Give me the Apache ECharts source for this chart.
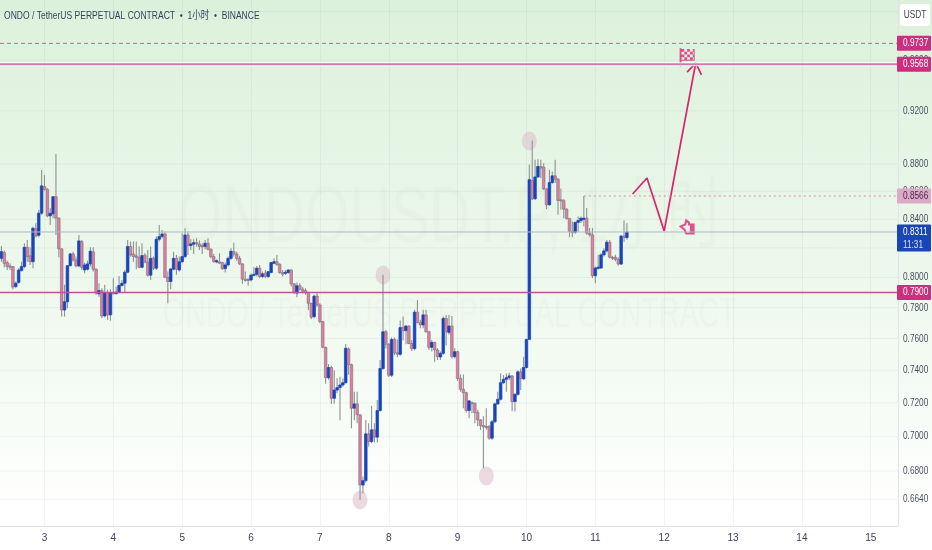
<!DOCTYPE html>
<html><head><meta charset="utf-8">
<style>html,body{margin:0;padding:0;background:#fff}#c{width:932px;height:550px}</style>
<script src="https://cdn.jsdelivr.net/npm/echarts@6/dist/echarts.min.js"></script>
</head><body><div id="c"></div>
<script>
const dayLabels=[3,4,5,6,7,8,9,10,11,12,13,14,15];
const hoursPerDay=24, firstDayIndex=15, slotCount=313;
const tickValues=[1.00,0.96,0.92,0.88,0.86,0.84,0.82,0.80,0.78,0.76,0.74,0.72,0.70,0.68,0.664];
const priceMin=0.6493, priceMax=1.0098;
// [open, close, low, high]
const candles=[
[.8129,.8175,.8106,.8214],[.8168,.8095,.8068,.8182],[.8100,.8073,.8050,.8113],[.8077,.8068,.8050,.8095],[.8073,.7935,.7921,.8077],
[.7939,.7961,.7928,.7972],[.7966,.8050,.7957,.8062],[.8046,.8073,.8039,.8106],[.8073,.8205,.8062,.8233],[.8205,.8141,.8106,.8256],
[.8146,.8106,.8084,.8205],[.8106,.8337,.8062,.8348],[.8334,.8283,.8274,.8372],[.8288,.8443,.8274,.8466],[.8443,.8639,.8430,.8755],
[.8634,.8614,.8605,.8719],[.8614,.8424,.8415,.8622],[.8424,.8443,.8360,.8478],[.8438,.8561,.8408,.8566],[.8561,.8408,.8290,.8874],
[.8408,.8194,.8136,.8415],[.8194,.7784,.7741,.8198],[.7784,.7838,.7741,.7950],[.7838,.8079,.7795,.8084],[.8079,.8159,.8073,.8168],
[.8159,.8118,.8106,.8175],[.8118,.8077,.8068,.8141],[.8077,.8249,.8068,.8290],[.8244,.8068,.8050,.8256],[.8050,.8084,.8028,.8100],
[.8055,.8091,.8046,.8113],[.8091,.8178,.8073,.8205],[.8173,.8055,.8039,.8205],[.8055,.7895,.7884,.8062],[.7890,.7912,.7871,.7961],
[.7912,.7745,.7730,.7928],[.7745,.7899,.7737,.7950],[.7899,.7752,.7719,.7917],[.7752,.7899,.7715,.7921],[.7899,.7892,.7884,.7994],
[.7892,.7901,.7884,.7939],[.7899,.7946,.7895,.8010],[.7946,.7961,.7939,.7983],[.7961,.8035,.7901,.8050],[.8035,.8210,.8028,.8256],
[.8210,.8152,.8141,.8244],[.8159,.8141,.8106,.8244],[.8146,.8136,.8055,.8244],[.8136,.8068,.8062,.8210],[.8068,.8148,.8062,.8233],
[.8150,.8104,.8095,.8164],[.8104,.8015,.8006,.8187],[.8015,.8129,.7983,.8210],[.8129,.8062,.8050,.8141],[.8062,.8260,.8050,.8279],
[.8260,.8279,.8244,.8360],[.8279,.8297,.8267,.8325],[.8297,.8001,.7994,.8313],[.8001,.7972,.7828,.8039],[.7972,.8057,.7921,.8062],
[.8055,.8129,.8050,.8175],[.8129,.8055,.8017,.8152],[.8050,.8106,.8039,.8141],[.8106,.8141,.8095,.8302],[.8141,.8290,.8129,.8337],
[.8290,.8216,.8152,.8313],[.8216,.8228,.8187,.8260],[.8226,.8237,.8159,.8260],[.8237,.8228,.8210,.8267],[.8228,.8210,.8187,.8251],
[.8216,.8210,.8159,.8233],[.8210,.8233,.8191,.8256],[.8233,.8191,.8182,.8267],[.8191,.8141,.8129,.8198],[.8141,.8106,.8100,.8159],
[.8104,.8113,.8095,.8122],[.8104,.8100,.8091,.8164],[.8100,.8059,.8050,.8106],[.8059,.8084,.8033,.8100],[.8084,.8129,.8073,.8141],
[.8129,.8178,.8118,.8198],[.8175,.8159,.8141,.8237],[.8159,.8129,.8113,.8175],[.8129,.8091,.8084,.8146],[.8091,.7988,.7957,.8095],
[.7988,.7983,.7970,.8039],[.7988,.7979,.7944,.7994],[.7983,.8015,.7972,.8028],[.8015,.8021,.8006,.8068],[.8021,.8062,.8006,.8077],
[.8062,.8006,.7994,.8084],[.8006,.8024,.7994,.8039],[.8028,.8006,.7994,.8050],[.8006,.8039,.7994,.8039],[.8033,.8100,.8028,.8106],
[.8095,.8106,.8089,.8129],[.8106,.8088,.8077,.8152],[.8088,.8033,.8024,.8095],[.8033,.8021,.8006,.8050],[.8028,.8035,.8017,.8050],
[.8033,.8050,.8024,.8055],[.8050,.7957,.7939,.8055],[.7957,.7899,.7890,.7961],[.7895,.7944,.7867,.7966],[.7944,.7921,.7912,.7961],
[.7921,.7908,.7895,.7935],[.7912,.7899,.7884,.7928],[.7899,.7828,.7784,.7905],[.7828,.7737,.7724,.7832],[.7741,.7875,.7730,.7884],
[.7876,.7817,.7806,.7894],[.7817,.7709,.7698,.7828],[.7709,.7544,.7538,.7714],[.7544,.7354,.7316,.7548],[.7354,.7417,.7341,.7438],
[.7417,.7228,.7193,.7426],[.7228,.7278,.7195,.7400],[.7278,.7293,.7258,.7350],[.7293,.7309,.7096,.7360],[.7309,.7323,.7299,.7350],
[.7323,.7538,.7316,.7565],[.7533,.7435,.7372,.7544],[.7435,.7168,.7048,.7441],[.7168,.7194,.7096,.7268],[.7194,.7128,.7078,.7268],
[.7128,.6720,.6637,.7132],[.6720,.6745,.6673,.6768],[.6745,.7015,.6733,.7098],[.7015,.6970,.6941,.7078],[.6970,.7039,.6960,.7182],
[.7039,.6996,.6964,.7078],[.6996,.7154,.6964,.7218],[.7154,.7411,.7148,.7464],[.7411,.7643,.7401,.8017],[.7643,.7564,.7536,.7654],
[.7564,.7369,.7359,.7569],[.7369,.7594,.7359,.7606],[.7594,.7509,.7494,.7606],[.7509,.7500,.7482,.7594],[.7500,.7670,.7491,.7715],
[.7670,.7650,.7587,.7742],[.7650,.7680,.7564,.7687],[.7680,.7568,.7564,.7685],[.7568,.7536,.7521,.7590],[.7536,.7770,.7525,.7785],
[.7770,.7702,.7698,.7850],[.7702,.7687,.7665,.7720],[.7687,.7752,.7665,.7785],[.7752,.7643,.7637,.7785],[.7643,.7544,.7527,.7650],
[.7544,.7575,.7517,.7590],[.7575,.7527,.7453,.7580],[.7527,.7485,.7464,.7538],[.7483,.7506,.7464,.7517],[.7506,.7729,.7495,.7742],
[.7729,.7643,.7556,.7752],[.7639,.7680,.7624,.7752],[.7680,.7485,.7474,.7745],[.7485,.7516,.7474,.7538],[.7516,.7349,.7334,.7522],
[.7349,.7283,.7268,.7374],[.7283,.7262,.7168,.7374],[.7262,.7154,.7142,.7268],[.7154,.7212,.7108,.7218],[.7202,.7198,.7138,.7208],
[.7198,.7142,.7078,.7202],[.7142,.7098,.7062,.7158],[.7098,.7064,.7038,.7102],[.7064,.7058,.6815,.7120],[.7060,.7056,.7040,.7168],
[.7058,.6990,.6980,.7068],[.6990,.7087,.6980,.7098],[.7087,.7194,.7078,.7202],[.7194,.7222,.7188,.7268],[.7222,.7323,.7214,.7380],
[.7323,.7344,.7316,.7370],[.7344,.7354,.7268,.7380],[.7354,.7365,.7340,.7385],[.7365,.7208,.7150,.7369],[.7208,.7252,.7148,.7258],
[.7252,.7390,.7244,.7401],[.7390,.7349,.7278,.7411],[.7347,.7417,.7340,.7485],[.7417,.7594,.7411,.7598],[.7594,.8684,.7590,.8796],
[.8677,.8546,.8537,.8974],[.8546,.8704,.8537,.8830],[.8704,.8781,.8696,.8834],[.8781,.8769,.8696,.8830],[.8776,.8617,.8610,.8805],
[.8617,.8503,.8472,.8622],[.8503,.8663,.8496,.8756],[.8663,.8712,.8654,.8744],[.8712,.8688,.8659,.8830],[.8688,.8534,.8432,.8695],
[.8539,.8532,.8467,.8620],[.8532,.8472,.8408,.8544],[.8472,.8406,.8396,.8479],[.8406,.8315,.8275,.8408],[.8315,.8310,.8275,.8385],
[.8310,.8378,.8298,.8385],[.8378,.8391,.8315,.8420],[.8391,.8408,.8373,.8420],[.8404,.8408,.8349,.8566],[.8408,.8303,.8291,.8480],
[.8303,.8291,.8280,.8338],[.8291,.8011,.7995,.8338],[.8011,.8063,.7961,.8074],[.8063,.8069,.8052,.8153],[.8063,.8153,.8058,.8164],
[.8153,.8180,.8142,.8199],[.8180,.8240,.8169,.8256],[.8240,.8136,.8129,.8256],[.8136,.8129,.8118,.8146],[.8136,.8122,.8108,.8153],
[.8122,.8090,.8081,.8136],[.8090,.8283,.8083,.8288],[.8283,.8272,.8242,.8391],[.8272,.8311,.8258,.8373]
];
// highlighted swing points [bar index, price]
const swingPoints=[[133,.8016],[184,.8971],[125,.6636],[169,.6771]];
// projected path [bar index, price]
const projection=[[220,.8580],[225,.8696],[231,.8318],[242,.9578]];
const arrowHead=[[239,.9505],[242,.9578],[244,.9482]];
const flagPoint=[[239,.9625]];
const handPoint=[[239,.8346]];
// price levels
const levelValues=[.8311,.9737,.9568,.7900,.8566];
const levelLabels=['0.8311','0.9737','0.9568','0.7900','0.8566'];
const countdown='11:31';
const midLevelStartBar=203;
const pinkTag='#cb2f7e', blue='#1a45b8', pinkBody='#e97a9f', wick='#8f9194';
const levelStyles=[
 {line:'#aeb9c6',w:1,dash:null,bg:blue,fg:'#fff'},
 {line:'#d4608f',w:1,dash:[4,3],bg:pinkTag,fg:'#fff'},
 {line:'#cf79b0',w:2,dash:null,bg:pinkTag,fg:'#fff',halo:true},
 {line:'#b8549e',w:1.5,dash:null,bg:pinkTag,fg:'#fff'},
 {line:'#e08ab4',w:1,dash:[2,3],bg:'#dda9c9',fg:'#4b2a50'}
];
const FONT='"Liberation Sans",sans-serif';
const SQ=0.75;

const categories=[];
for(let i=0;i<slotCount;i++){
  const h=i-firstDayIndex, day=dayLabels[0]+Math.floor(h/hoursPerDay), hh=((h%24)+24)%24;
  categories.push('d'+day+'h'+hh);
}
const dayCats=dayLabels.map(d=>'d'+d+'h0');

const ch=echarts.init(document.getElementById('c'),null,{renderer:'canvas'});
const squeezed=(x,y,text,color,size,align)=>({type:'text',x:x,y:y,scaleX:SQ,silent:true,
  style:{text:text,fill:color,font:(size||11)+'px '+FONT,textAlign:align||'left',textVerticalAlign:'middle',verticalAlign:'middle'}});
ch.setOption({
  animation:false,
  backgroundColor:{type:'linear',x:0,y:0,x2:0,y2:1,colorStops:[{offset:0,color:'#dcf1db'},{offset:.5,color:'#edf8ec'},{offset:.95,color:'#ffffff'},{offset:1,color:'#ffffff'}]},
  graphic:[
    {type:'text',x:4,y:16,scaleX:.775,silent:true,z:60,style:{text:'ONDO / TetherUS PERPETUAL CONTRACT  •  1小时  •  BINANCE',font:'11px "Liberation Sans","Noto Sans CJK SC",sans-serif',fill:'#3b3f5c',verticalAlign:'middle'}},
    {type:'text',x:178,y:220,scaleX:.715,silent:true,z:0,style:{text:'ONDOUSDT.P, 1小时',font:'80px "Liberation Sans","Noto Sans CJK SC",sans-serif',fill:'rgba(60,70,70,0.02)',verticalAlign:'middle'}},
    {type:'text',x:163,y:315,scaleX:.665,silent:true,z:0,style:{text:'ONDO / TetherUS PERPETUAL CONTRACT',font:'43px "Liberation Sans",sans-serif',fill:'rgba(60,70,70,0.02)',verticalAlign:'middle'}},
    {type:'rect',x:900,y:4,z:50,silent:true,shape:{width:30,height:22,r:3},style:{fill:'#ffffff'}},
    {type:'text',x:915,y:15,scaleX:.75,z:51,silent:true,style:{text:'USDT',font:'11px '+FONT,fill:'#3b3f4c',align:'center',textAlign:'center',verticalAlign:'middle'},originX:0}
  ],
  grid:{left:0,right:34,top:0,bottom:24,containLabel:false},
  xAxis:{type:'category',data:categories,boundaryGap:true,
    axisLine:{show:true,lineStyle:{color:'#dfe2e6',width:1}},axisTick:{show:false},splitLine:{show:false},
    axisLabel:{color:'#3b3f5c',fontFamily:FONT,fontSize:10,margin:7,interval:i=>((i-firstDayIndex)%hoursPerDay===0&&i>=firstDayIndex),
      formatter:v=>v.split('h')[0].slice(1)}},
  yAxis:{type:'log',logBase:10,min:priceMin,max:priceMax,position:'right',
    axisLine:{show:true,lineStyle:{color:'#dfe2e6'}},axisTick:{show:false},axisLabel:{show:false},splitLine:{show:false}},
  series:[
    {type:'line',name:'dayGrid',data:[],silent:true,z:1,
      markLine:{silent:true,symbol:['none','none'],animation:false,z:1,
        lineStyle:{color:'rgba(120,140,130,0.09)',width:1,type:'solid'},label:{show:false},
        data:dayCats.map(c=>({xAxis:c}))}},
    {type:'custom',name:'priceTicks',z:1,silent:true,clip:false,
      data:tickValues.map(t=>[0,t]),encode:{x:0,y:1},
      renderItem:(p,api)=>{
        const v=api.value(1),y=api.coord([0,v])[1],cs=p.coordSys,right=cs.x+cs.width;
        return {type:'group',children:[
          {type:'line',shape:{x1:cs.x,y1:y,x2:right,y2:y},style:{stroke:'rgba(120,140,130,0.09)',lineWidth:1}},
          squeezed(903,y,v.toFixed(4),'#4b5060')
        ]};
      }},
    {type:'scatter',name:'swings',data:swingPoints,symbol:'circle',symbolSize:[15,19],z:2,silent:true,
      itemStyle:{color:'rgba(222,190,204,0.72)'}},
    {type:'custom',name:'candles',z:3,silent:true,clip:false,
      data:candles.map((c,i)=>[i,c[0],c[1],c[2],c[3]]),encode:{x:0,y:[1,2,3,4]},
      renderItem:(p,api)=>{
        const x=api.value(0),o=api.value(1),c=api.value(2),l=api.value(3),h=api.value(4);
        const pO=api.coord([x,o]),pC=api.coord([x,c]),pL=api.coord([x,l]),pH=api.coord([x,h]);
        const up=c>=o,top=Math.min(pO[1],pC[1]),bh=Math.max(Math.abs(pO[1]-pC[1]),1.2);
        return {type:'group',children:[
          {type:'line',shape:{x1:pL[0],y1:pL[1],x2:pH[0],y2:pH[1]},style:{stroke:wick,lineWidth:1.1}},
          {type:'rect',shape:{x:pO[0]-1.3,y:top,width:2.6,height:bh},
           style:{fill:up?blue:pinkBody,stroke:up?blue:'#74767c',lineWidth:up?.7:.6}}
        ]};
      }},
    {type:'line',name:'projection',data:projection,z:5,silent:true,symbol:'none',lineStyle:{color:'#d9246f',width:1.7}},
    {type:'line',name:'arrow',data:arrowHead,z:5,silent:true,symbol:'none',lineStyle:{color:'#d9246f',width:1.7}},
    {type:'scatter',name:'flag',data:flagPoint,z:6,silent:true,symbolSize:[15,18],
      symbol:'path://M0 0H2V20H0ZM2 1H5V4H2ZM8 1H11V4H8ZM14 1H16V4H14ZM5 4H8V7H5ZM11 4H14V7H11ZM2 7H5V10H2ZM8 7H11V10H8ZM14 7H16V10H14ZM5 10H8V13H5ZM11 10H14V13H11ZM2 13H16V14H2ZM15 1H16V14H15Z',
      itemStyle:{color:'#d9267c'}},
    {type:'scatter',name:'hand',data:handPoint,z:6,silent:true,symbolSize:[13,13],
      symbol:'path://M1 7L6 5L7 1L10 3L10 5L14 5L14 14L7 14L5 10ZM12 5H15V14H12Z',
      itemStyle:{color:'rgba(0,0,0,0)',borderColor:'#d9267c',borderWidth:2}},
    {type:'custom',name:'levels',z:8,silent:true,clip:false,
      data:levelValues.map((v,i)=>[0,v,i]),encode:{x:0,y:1},
      renderItem:(p,api)=>{
        const v=api.value(1),k=api.value(2),st=levelStyles[k],y=api.coord([0,v])[1],cs=p.coordSys,right=cs.x+cs.width;
        const x1=k===4?api.coord([midLevelStartBar,v])[0]:cs.x;
        const two=k===0,top=y-7.5,h=two?27:15;
        const kids=[];
        if(st.halo) kids.push({type:'line',shape:{x1:x1,y1:y,x2:right,y2:y},style:{stroke:'rgba(255,255,255,0.85)',lineWidth:4}});
        kids.push({type:'line',shape:{x1:x1,y1:y,x2:right,y2:y},style:{stroke:st.line,lineWidth:st.w,lineDash:st.dash||undefined}});
        kids.push({type:'rect',shape:{x:right-1,y:top,width:34,height:h,r:1},style:{fill:st.bg}});
        kids.push(squeezed(903,y,levelLabels[k],st.fg));
        if(two) kids.push(squeezed(903,y+13,countdown,'#dbe3f6'));
        return {type:'group',children:kids};
      }}
  ]
});
</script></body></html>
